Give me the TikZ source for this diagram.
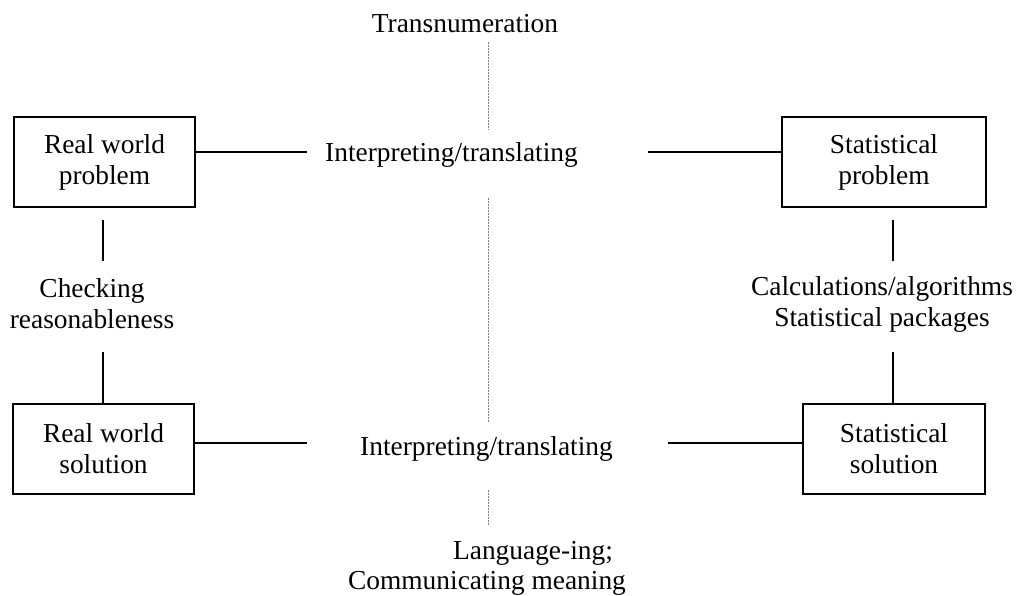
\documentclass[tikz,border=0pt]{standalone}
\usepackage{fontspec}
\setmainfont{Liberation Serif}
\begin{document}
\begin{tikzpicture}[x=1pt,y=-1pt,
  txt/.style={font=\fontsize{27.4}{31}\selectfont, align=center, inner sep=0pt},
  box/.style={txt, draw, line width=1.8pt, minimum height=90pt},
  conn/.style={line width=1.8pt},
  guide/.style={draw=gray, line width=0.9pt, dash pattern=on 2pt off 1pt}]
\useasboundingbox (0,0) rectangle (1017,596);
% boxes
\node[box, minimum width=181pt] (rwp) at (104.5,162) {Real world\\problem};
\node[box, minimum width=204pt] (sp) at (884,162) {Statistical\\problem};
\node[box, minimum width=181pt] (rws) at (103.5,449) {Real world\\solution};
\node[box, minimum width=182pt] (ss) at (894,449) {Statistical\\solution};
% labels
\node[txt] (trans) at (465,24) {Transnumeration};
\node[txt] (it1) at (451.5,155) {Interpreting/translating};
\node[txt] (it2) at (486.5,449) {Interpreting/translating};
\node[txt] (check) at (92,304) {Checking\\reasonableness};
\node[txt] (calc) at (882,304) {Calculations/algorithms\\Statistical packages};
\node[txt] (lang) at (533,553) {Language-ing;};
\node[txt] (comm) at (487,583) {Communicating meaning};
% coordinates
\coordinate (a1) at (195,152); \coordinate (a2) at (307,152);
\coordinate (b1) at (648,152); \coordinate (b2) at (782,152);
\coordinate (c1) at (103,220); \coordinate (c2) at (103,261);
\coordinate (c3) at (103,352); \coordinate (c4) at (103,404);
\coordinate (d1) at (893,220); \coordinate (d2) at (893,261);
\coordinate (d3) at (893,352); \coordinate (d4) at (893,404);
\coordinate (e1) at (194,443); \coordinate (e2) at (307,443);
\coordinate (f1) at (668,443); \coordinate (f2) at (803,443);
\coordinate (g1) at (488,42); \coordinate (g2) at (488,130);
\coordinate (g3) at (488,198); \coordinate (g4) at (488,422);
\coordinate (g5) at (488,490); \coordinate (g6) at (488,525);
% connectors
\draw[conn] (a1) -- (a2);
\draw[conn] (b1) -- (b2);
\draw[conn] (c1) -- (c2);
\draw[conn] (c3) -- (c4);
\draw[conn] (d1) -- (d2);
\draw[conn] (d3) -- (d4);
\draw[conn] (e1) -- (e2);
\draw[conn] (f1) -- (f2);
\draw[guide] (g1) -- (g2);
\draw[guide] (g3) -- (g4);
\draw[guide] (g5) -- (g6);
\end{tikzpicture}
\end{document}
